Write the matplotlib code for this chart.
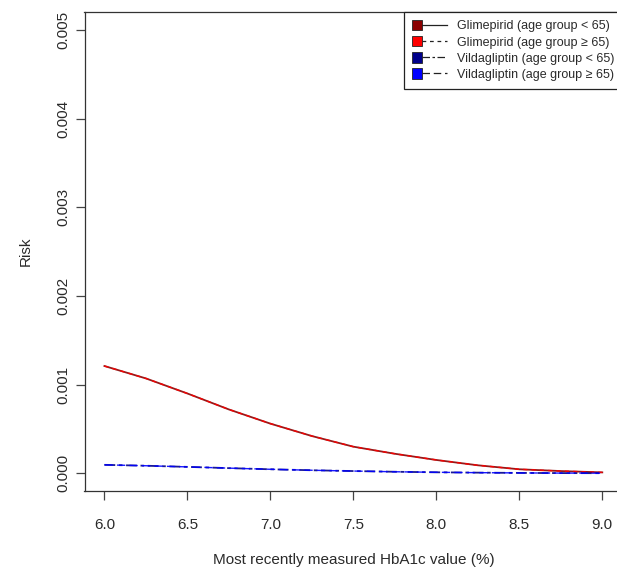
import matplotlib
matplotlib.use("Agg")
import matplotlib.pyplot as plt
from matplotlib.legend_handler import HandlerBase
from matplotlib.lines import Line2D
from matplotlib.patches import Rectangle

plt.rcParams['font.family'] = ['Liberation Sans', 'DejaVu Sans']

# ---- data ----
hba1c = [6.00, 6.25, 6.50, 6.75, 7.00, 7.25, 7.50, 7.75, 8.00, 8.25, 8.50, 8.75, 9.00]
glim_young = [0.00121, 0.00107, 0.00090, 0.00072, 0.00056, 0.00042, 0.00030,
              0.00022, 0.00015, 0.00009, 0.000045, 0.000025, 0.00001]
glim_old = [0.00121, 0.00107, 0.00090, 0.00072, 0.00056, 0.00042, 0.00030,
            0.00022, 0.00015, 0.00009, 0.000045, 0.000025, 0.00001]
vild_young = [0.000095, 0.000085, 0.000072, 0.000058, 0.000045, 0.000034, 0.000025,
              0.000017, 0.000011, 0.000007, 0.000004, 0.000002, 0.000001]
vild_old = [0.000095, 0.000085, 0.000072, 0.000058, 0.000045, 0.000034, 0.000025,
            0.000017, 0.000011, 0.000007, 0.000004, 0.000002, 0.000001]

labels = ["Glimepirid (age group < 65)", "Glimepirid (age group \u2265 65)",
          "Vildagliptin (age group < 65)", "Vildagliptin (age group \u2265 65)"]
colors = ["#8B0000", "#FF0000", "#00008B", "#0000FF"]
styles = ["-", (0, (3, 3)), (0, (6, 2, 2, 2)), (0, (6, 3))]
xticks = [6.0, 6.5, 7.0, 7.5, 8.0, 8.5, 9.0]
yticks = [0.000, 0.001, 0.002, 0.003, 0.004, 0.005]

W, H = 617, 571
fig = plt.figure(figsize=(W / 100, H / 100), dpi=100)
left, right, bottom, top = 84.5, 622.2, 491.0, 12.3
ax = fig.add_axes([left / W, (H - bottom) / H, (right - left) / W, (bottom - top) / H])

series = [glim_young, glim_old, vild_young, vild_old]
widths = [1.3, 1.0, 1.3, 1.0]
for i in range(4):
    ax.plot(hba1c, series[i], color=colors[i], linestyle=styles[i], lw=widths[i], alpha=0.9)

ax.set_xlim(5.88, 9.12)
ax.set_ylim(-0.0002, 0.0052)
ax.set_xticks(xticks)
ax.set_xticklabels([f"{v:.1f}" for v in xticks])
ax.set_yticks(yticks)
ax.set_yticklabels([f"{v:.3f}" for v in yticks], rotation=90, va='center')
txtc = "#2a2a2a"
ax.tick_params(axis='both', direction='out', length=6.5, width=0.9, colors="#444444",
               labelcolor=txtc, labelsize=11)
ax.tick_params(axis='x', pad=13)
ax.tick_params(axis='y', pad=4)
for s in ax.spines.values():
    s.set_color("#333333")
    s.set_linewidth(0.9)

ax.set_xlabel("Most recently measured HbA1c value (%)", fontsize=11, color=txtc, labelpad=15)
ax.set_ylabel("Risk", fontsize=11, color=txtc, labelpad=17)


class Entry:
    def __init__(self, color, ls):
        self.color = color
        self.ls = ls


class EntryHandler(HandlerBase):
    def create_artists(self, legend, orig_handle, xdescent, ydescent, width, height,
                       fontsize, trans):
        y = height / 2 - ydescent
        sq = 7.5
        x0 = -xdescent
        rect = Rectangle((x0, y - sq / 2), sq, sq, facecolor=orig_handle.color,
                         edgecolor="#222222", lw=0.6, transform=trans)
        line = Line2D([x0 + sq, x0 + width], [y, y], color="#222222", lw=0.9,
                      linestyle=orig_handle.ls, transform=trans)
        return [line, rect]


handles = [Entry(c, s) for c, s in zip(colors, styles)]
leg = ax.legend(handles, labels, handler_map={Entry: EntryHandler()}, loc='upper right',
                borderaxespad=0, fontsize=9, handlelength=2.8, handletextpad=0.8,
                borderpad=0.65, labelspacing=0.33, fancybox=False, framealpha=1)
leg.get_frame().set_edgecolor("#222222")
leg.get_frame().set_linewidth(0.9)
for t in leg.get_texts():
    t.set_color(txtc)

fig.savefig("out.png", dpi=100)
